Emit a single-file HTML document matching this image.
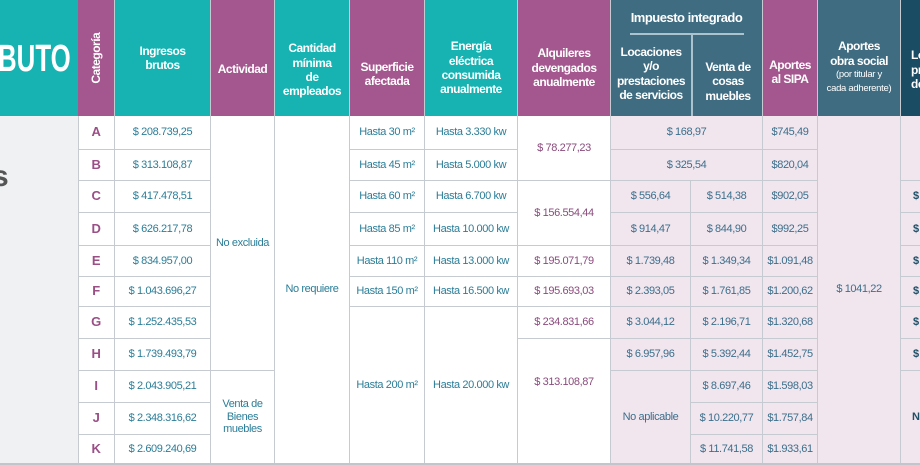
<!DOCTYPE html>
<html><head><meta charset="utf-8"><style>
*{margin:0;padding:0;box-sizing:border-box}
body{width:920px;height:465px;overflow:hidden;background:#fff;position:relative;font-family:"Liberation Sans Narrow","Liberation Sans",sans-serif}
div.c{position:absolute;display:flex;align-items:center;justify-content:center;text-align:center;border-right:1px solid #c5cbd0;border-bottom:1px solid #c5cbd0;font-size:11px;letter-spacing:-0.4px;color:#2b7d97;line-height:1.15;white-space:nowrap}
div.c.h{color:#fff;font-weight:bold;font-size:12px;letter-spacing:-0.5px;line-height:1.2;border-bottom:none}
.t{background:#17b3b2}.p{background:#a4578e}.s{background:#3f6c81}.d{background:#1a4c63}
div.c.pt{color:#8a4a7c}
div.c.sb{color:#3b6f8b}
div.c.cat{color:#9a4f86;font-weight:bold;font-size:13px}
.hx{position:absolute;text-align:center;color:#fff;font-weight:bold;font-size:12px;letter-spacing:-0.5px;line-height:1.2}
</style></head><body>
<div style="position:absolute;left:0;top:0;width:78px;height:116px;background:#17b3b2"></div>
<div style="position:absolute;left:0;top:116px;width:78px;height:349px;background:#eff1f2"></div>
<div style="position:absolute;left:-2px;top:38px;color:#fff;font-weight:bold;font-size:38px;transform:scaleX(0.68);transform-origin:left top">BUTO</div>
<div style="position:absolute;left:-8px;top:160px;color:#555;font-weight:bold;font-size:30px">s</div>

<div class="c h p" style="left:78px;top:0;width:37px;height:116px"><span style="transform:rotate(-90deg);display:block;white-space:nowrap">Categoría</span></div>
<div class="c h t" style="left:115px;top:0;width:96px;height:116px">Ingresos<br>brutos</div>
<div class="c h p" style="left:211px;top:0;width:64px;height:116px;padding-top:22px">Actividad</div>
<div class="c h t" style="left:275px;top:0;width:75px;height:116px;padding-top:24px">Cantidad<br>mínima<br>de<br>empleados</div>
<div class="c h p" style="left:350px;top:0;width:75px;height:116px;padding-top:32px">Superficie<br>afectada</div>
<div class="c h t" style="left:425px;top:0;width:93px;height:116px;padding-top:20px">Energía<br>eléctrica<br>consumida<br>anualmente</div>
<div class="c h p" style="left:518px;top:0;width:93px;height:116px;padding-top:20px">Alquileres<br>devengados<br>anualmente</div>
<div class="c h s" style="left:611px;top:0;width:152px;height:116px;align-items:flex-start;padding-top:10px;font-size:13px">Impuesto integrado</div>
<div style="position:absolute;left:630px;top:33px;width:114px;height:2px;background:#aac3cf"></div>
<div style="position:absolute;left:691px;top:35px;width:2px;height:81px;background:#aac3cf"></div>
<div class="hx" style="left:611px;top:45px;width:80px">Locaciones<br>y/o<br>prestaciones<br>de servicios</div>
<div class="hx" style="left:693px;top:60px;width:70px">Venta de<br>cosas<br>muebles</div>
<div class="c h p" style="left:763px;top:0;width:55px;height:116px;padding-top:28px">Aportes<br>al SIPA</div>
<div class="c h s" style="left:818px;top:0;width:83px;height:116px;padding-top:20px;flex-direction:column">Aportes<br>obra social<span style="font-size:9.5px;line-height:1.5;font-weight:normal;letter-spacing:-0.3px">(por titular y<br>cada adherente)</span></div>
<div class="c h d" style="left:901px;top:0;width:40px;height:116px;justify-content:flex-start;padding-left:10px;padding-top:24px;text-align:left">Lo<br>pr<br>de</div>

<div style="position:absolute;left:611px;top:116px;width:309px;height:348px;background:#f1e5ee"></div>

<div class="c cat" style="left:78px;top:116px;width:37px;height:34px">A</div>
<div class="c cat" style="left:78px;top:150px;width:37px;height:31px">B</div>
<div class="c cat" style="left:78px;top:181px;width:37px;height:32px">C</div>
<div class="c cat" style="left:78px;top:213px;width:37px;height:33px">D</div>
<div class="c cat" style="left:78px;top:246px;width:37px;height:31px">E</div>
<div class="c cat" style="left:78px;top:277px;width:37px;height:30px">F</div>
<div class="c cat" style="left:78px;top:307px;width:37px;height:32px">G</div>
<div class="c cat" style="left:78px;top:339px;width:37px;height:32px">H</div>
<div class="c cat" style="left:78px;top:371px;width:37px;height:32px">I</div>
<div class="c cat" style="left:78px;top:403px;width:37px;height:32px">J</div>
<div class="c cat" style="left:78px;top:435px;width:37px;height:29px">K</div>
<div style="position:absolute;left:78px;top:116px;width:1px;height:348px;background:#c5cbd0"></div>

<div class="c" style="left:115px;top:116px;width:96px;height:34px">$ 208.739,25</div>
<div class="c" style="left:115px;top:150px;width:96px;height:31px">$ 313.108,87</div>
<div class="c" style="left:115px;top:181px;width:96px;height:32px">$ 417.478,51</div>
<div class="c" style="left:115px;top:213px;width:96px;height:33px">$ 626.217,78</div>
<div class="c" style="left:115px;top:246px;width:96px;height:31px">$ 834.957,00</div>
<div class="c" style="left:115px;top:277px;width:96px;height:30px">$ 1.043.696,27</div>
<div class="c" style="left:115px;top:307px;width:96px;height:32px">$ 1.252.435,53</div>
<div class="c" style="left:115px;top:339px;width:96px;height:32px">$ 1.739.493,79</div>
<div class="c" style="left:115px;top:371px;width:96px;height:32px">$ 2.043.905,21</div>
<div class="c" style="left:115px;top:403px;width:96px;height:32px">$ 2.348.316,62</div>
<div class="c" style="left:115px;top:435px;width:96px;height:29px">$ 2.609.240,69</div>

<div class="c" style="left:211px;top:116px;width:64px;height:255px">No excluida</div>
<div class="c" style="left:211px;top:371px;width:64px;height:93px">Venta de<br>Bienes<br>muebles</div>
<div class="c" style="left:275px;top:116px;width:75px;height:348px;padding-bottom:0">No requiere</div>

<div class="c" style="left:350px;top:116px;width:75px;height:34px">Hasta 30 m²</div>
<div class="c" style="left:350px;top:150px;width:75px;height:31px">Hasta 45 m²</div>
<div class="c" style="left:350px;top:181px;width:75px;height:32px">Hasta 60 m²</div>
<div class="c" style="left:350px;top:213px;width:75px;height:33px">Hasta 85 m²</div>
<div class="c" style="left:350px;top:246px;width:75px;height:31px">Hasta 110 m²</div>
<div class="c" style="left:350px;top:277px;width:75px;height:30px">Hasta 150 m²</div>
<div class="c" style="left:350px;top:307px;width:75px;height:157px">Hasta 200 m²</div>
<div class="c" style="left:425px;top:116px;width:93px;height:34px">Hasta 3.330 kw</div>
<div class="c" style="left:425px;top:150px;width:93px;height:31px">Hasta 5.000 kw</div>
<div class="c" style="left:425px;top:181px;width:93px;height:32px">Hasta 6.700 kw</div>
<div class="c" style="left:425px;top:213px;width:93px;height:33px">Hasta 10.000 kw</div>
<div class="c" style="left:425px;top:246px;width:93px;height:31px">Hasta 13.000 kw</div>
<div class="c" style="left:425px;top:277px;width:93px;height:30px">Hasta 16.500 kw</div>
<div class="c" style="left:425px;top:307px;width:93px;height:157px">Hasta 20.000 kw</div>
<div class="c pt" style="left:518px;top:116px;width:93px;height:65px">$ 78.277,23</div>
<div class="c pt" style="left:518px;top:181px;width:93px;height:65px">$ 156.554,44</div>
<div class="c pt" style="left:518px;top:246px;width:93px;height:31px">$ 195.071,79</div>
<div class="c pt" style="left:518px;top:277px;width:93px;height:30px">$ 195.693,03</div>
<div class="c pt" style="left:518px;top:307px;width:93px;height:32px">$ 234.831,66</div>
<div class="c pt" style="left:518px;top:339px;width:93px;height:125px;align-items:flex-start;padding-top:37px">$ 313.108,87</div>
<div class="c sb" style="left:611px;top:116px;width:152px;height:34px">$ 168,97</div>
<div class="c sb" style="left:611px;top:150px;width:152px;height:31px">$ 325,54</div>
<div class="c sb" style="left:611px;top:181px;width:80px;height:32px">$ 556,64</div>
<div class="c sb" style="left:611px;top:213px;width:80px;height:33px">$ 914,47</div>
<div class="c sb" style="left:611px;top:246px;width:80px;height:31px">$ 1.739,48</div>
<div class="c sb" style="left:611px;top:277px;width:80px;height:30px">$ 2.393,05</div>
<div class="c sb" style="left:611px;top:307px;width:80px;height:32px">$ 3.044,12</div>
<div class="c sb" style="left:611px;top:339px;width:80px;height:32px">$ 6.957,96</div>
<div class="c sb" style="left:611px;top:371px;width:80px;height:93px">No aplicable</div>
<div class="c sb" style="left:691px;top:181px;width:72px;height:32px">$ 514,38</div>
<div class="c sb" style="left:691px;top:213px;width:72px;height:33px">$ 844,90</div>
<div class="c sb" style="left:691px;top:246px;width:72px;height:31px">$ 1.349,34</div>
<div class="c sb" style="left:691px;top:277px;width:72px;height:30px">$ 1.761,85</div>
<div class="c sb" style="left:691px;top:307px;width:72px;height:32px">$ 2.196,71</div>
<div class="c sb" style="left:691px;top:339px;width:72px;height:32px">$ 5.392,44</div>
<div class="c sb" style="left:691px;top:371px;width:72px;height:32px">$ 8.697,46</div>
<div class="c sb" style="left:691px;top:403px;width:72px;height:32px">$ 10.220,77</div>
<div class="c sb" style="left:691px;top:435px;width:72px;height:29px">$ 11.741,58</div>
<div class="c sb" style="left:763px;top:116px;width:55px;height:34px">$745,49</div>
<div class="c sb" style="left:763px;top:150px;width:55px;height:31px">$820,04</div>
<div class="c sb" style="left:763px;top:181px;width:55px;height:32px">$902,05</div>
<div class="c sb" style="left:763px;top:213px;width:55px;height:33px">$992,25</div>
<div class="c sb" style="left:763px;top:246px;width:55px;height:31px">$1.091,48</div>
<div class="c sb" style="left:763px;top:277px;width:55px;height:30px">$1.200,62</div>
<div class="c sb" style="left:763px;top:307px;width:55px;height:32px">$1.320,68</div>
<div class="c sb" style="left:763px;top:339px;width:55px;height:32px">$1.452,75</div>
<div class="c sb" style="left:763px;top:371px;width:55px;height:32px">$1.598,03</div>
<div class="c sb" style="left:763px;top:403px;width:55px;height:32px">$1.757,84</div>
<div class="c sb" style="left:763px;top:435px;width:55px;height:29px">$1.933,61</div>
<div class="c sb" style="left:818px;top:116px;width:83px;height:348px">$ 1041,22</div>
<div class="c" style="left:901px;top:116px;width:40px;height:65px"></div>
<div class="c" style="left:901px;top:181px;width:40px;height:32px;justify-content:flex-start;padding-left:12px;color:#1d4f66;font-weight:bold">$</div>
<div class="c" style="left:901px;top:213px;width:40px;height:33px;justify-content:flex-start;padding-left:12px;color:#1d4f66;font-weight:bold">$</div>
<div class="c" style="left:901px;top:246px;width:40px;height:31px;justify-content:flex-start;padding-left:12px;color:#1d4f66;font-weight:bold">$</div>
<div class="c" style="left:901px;top:277px;width:40px;height:30px;justify-content:flex-start;padding-left:12px;color:#1d4f66;font-weight:bold">$</div>
<div class="c" style="left:901px;top:307px;width:40px;height:32px;justify-content:flex-start;padding-left:12px;color:#1d4f66;font-weight:bold">$</div>
<div class="c" style="left:901px;top:339px;width:40px;height:32px;justify-content:flex-start;padding-left:12px;color:#1d4f66;font-weight:bold">$</div>
<div class="c" style="left:901px;top:371px;width:40px;height:93px;justify-content:flex-start;padding-left:11px;color:#1d4f66;font-weight:bold">No</div>
<div style="position:absolute;left:0;top:463px;width:920px;height:2px;background:#c0c6cb"></div>
</body></html>
